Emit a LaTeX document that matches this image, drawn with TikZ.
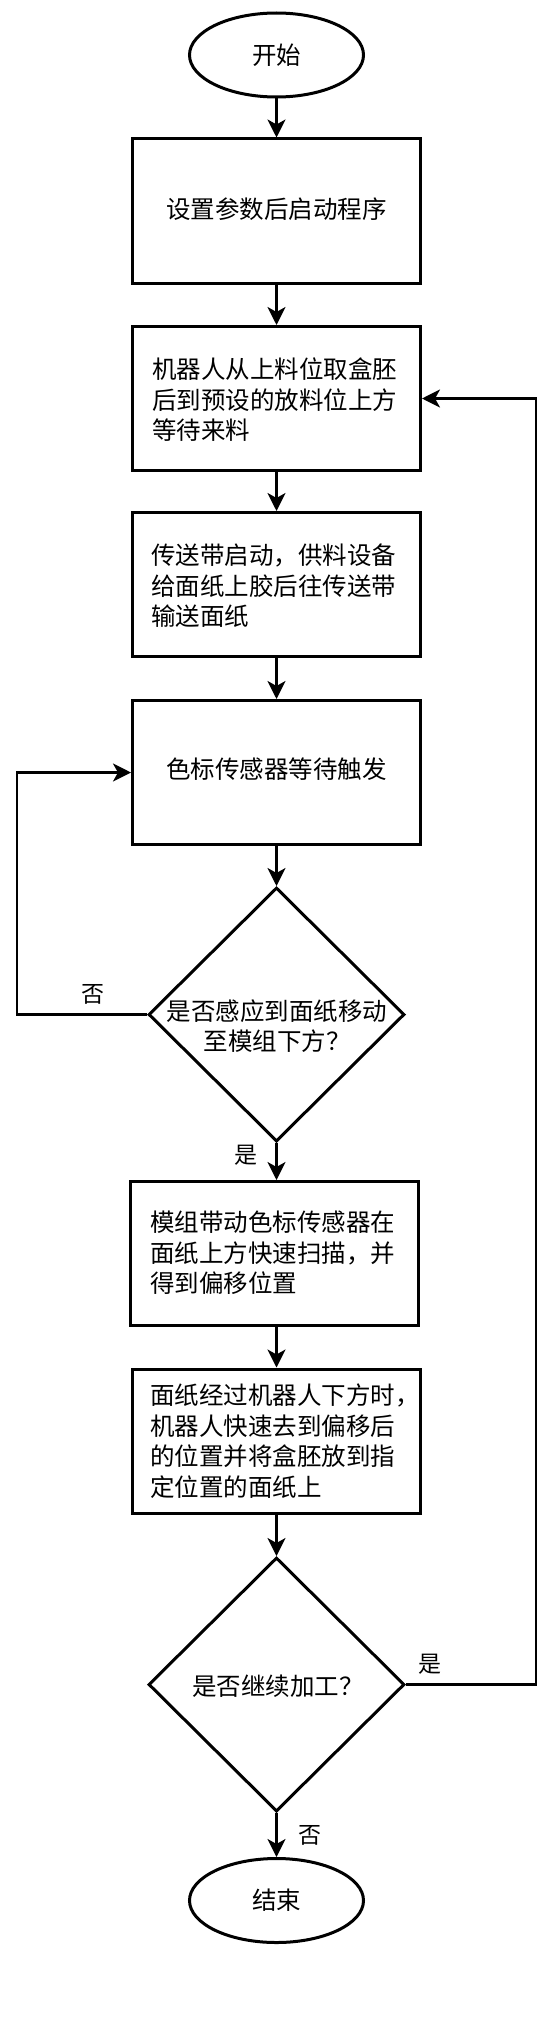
\documentclass[tikz,border=0pt]{standalone}
\usepackage{fontspec}
\setmainfont{Noto Sans CJK SC}
\usetikzlibrary{shapes.geometric,arrows.meta}
\tikzset{
  shapeline/.style={draw=black,line width=3pt,fill=white},
  procbox/.style={shapeline,rectangle,minimum width=288pt,minimum height=144pt,inner sep=0pt},
  term/.style={shapeline,ellipse,minimum width=174pt,minimum height=84pt,inner sep=0pt},
  decide/.style={shapeline,diamond,minimum width=256pt,minimum height=254pt,inner sep=0pt},
  txt/.style={inner sep=0pt,font=\fontsize{24.5pt}{30.5pt}\selectfont,align=left},
  ctxt/.style={inner sep=0pt,font=\fontsize{24.5pt}{30.5pt}\selectfont,align=center},
  lbl/.style={inner sep=0pt,font=\fontsize{23pt}{28pt}\selectfont},
  arr/.style={draw=black,line width=2.5pt,-{Stealth[length=18pt,width=18pt,inset=5pt]}},
  conn/.style={draw=black,line width=2.5pt}
}
\begin{document}
\begin{tikzpicture}[x=1pt,y=-1pt]
\useasboundingbox[fill=white] (0,0) rectangle (556,2028);
% shapes
\node[term] (start) at (276.5,55) {};
\node[ctxt] (starttxt) at (276.5,55) {开始};
\node[procbox] (b1) at (276.5,211) {};
\node[ctxt] (b1t) at (276.5,209) {设置参数后启动程序};
\node[procbox] (b2) at (276.5,398.5) {};
\node[txt,anchor=west] (b2t) at (152,400) {机器人从上料位取盒胚\\后到预设的放料位上方\\等待来料};
\node[procbox] (b3) at (276.5,584.5) {};
\node[txt,anchor=west] (b3t) at (151,586) {传送带启动，供料设备\\给面纸上胶后往传送带\\输送面纸};
\node[procbox] (b4) at (276.5,772.5) {};
\node[ctxt] (b4t) at (276.5,769) {色标传感器等待触发};
\node[decide] (d1) at (276.5,1014.5) {};
\node[ctxt] (d1t) at (277,1026) {是否感应到面纸移动\\至模组下方？};
\node[procbox] (b5) at (274,1253.5) {};
\node[txt,anchor=west] (b5t) at (150,1253) {模组带动色标传感器在\\面纸上方快速扫描，并\\得到偏移位置};
\node[procbox] (b6) at (276.5,1441) {};
\node[txt,anchor=west] (b6t) at (150,1441) {面纸经过机器人下方时，\\机器人快速去到偏移后\\的位置并将盒胚放到指\\定位置的面纸上};
\node[decide] (d2) at (276.5,1684.5) {};
\node[ctxt] (d2t) at (278,1686) {是否继续加工？};
\node[term] (stop) at (276.5,1900.5) {};
\node[ctxt] (stoptxt) at (276.5,1900.5) {结束};
% labels
\node[lbl] (no1) at (93,994) {否};
\node[lbl] (yes1) at (246,1155) {是};
\node[lbl] (yes2) at (430,1664) {是};
\node[lbl] (no2) at (310,1835) {否};
% loop corners
\coordinate (lp) at (17,1014.5);
\coordinate (rp) at (536,1684.5);
% connectors
\draw[arr] (start.south) -- (b1.north);
\draw[arr] (b1.south) -- (b2.north);
\draw[arr] (b2.south) -- (b3.north);
\draw[arr] (b3.south) -- (b4.north);
\draw[arr] (b4.south) -- (d1.north);
\draw[arr] (d1.south) -- (d1.south |- b5.north);
\draw[arr] (b5.south -| b6.north) -- (b6.north);
\draw[arr] (b6.south) -- (d2.north);
\draw[arr] (d2.south) -- (stop.north);
\draw[arr] (d1.west) -- (lp) |- (b4.west);
\draw[arr] (d2.east) -- (rp) |- (b2.east);
\end{tikzpicture}
\end{document}
